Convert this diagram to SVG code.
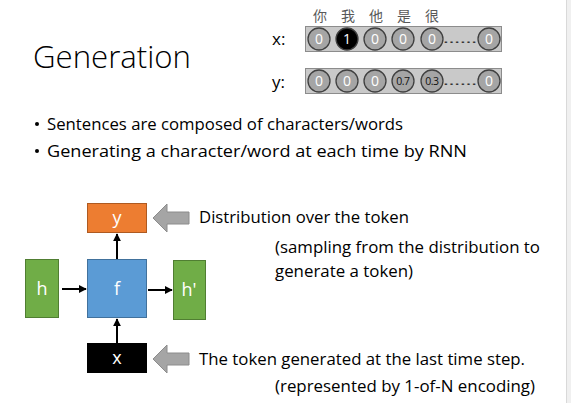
<svg xmlns="http://www.w3.org/2000/svg" width="571" height="403" viewBox="0 0 571 403">
<defs>
<style>
text{font-family:"Open Sans","Noto Sans","Liberation Sans",sans-serif;}
.cjk{font-family:"Noto Sans CJK SC","Noto Sans CJK JP",sans-serif;font-size:14px;fill:#595959;text-anchor:middle;}
.body{font-size:17px;fill:#000;}
.lbl{font-size:18px;fill:#fff;text-anchor:middle;}
.bar{fill:#c9c9c9;stroke:#8c8c8c;stroke-width:1;}
.cg{fill:#a5a5a5;stroke:#404040;stroke-width:1.3;}
.cb{fill:#000;stroke:#404040;stroke-width:1.3;}
.cn{font-size:14px;fill:#fff;text-anchor:middle;}
.cs{font-size:10.5px;fill:#111;text-anchor:middle;letter-spacing:-0.5px;}
.dots{font-size:12px;fill:#333;}
.conn{stroke:#000;stroke-width:2;fill:none;}
.garrow{fill:#a5a5a5;stroke:#8c8c8c;stroke-width:1;}
</style>
<marker id="ah" viewBox="0 0 10 10" refX="9" refY="5" markerWidth="4" markerHeight="4" orient="auto" markerUnits="strokeWidth">
<path d="M0,0 L10,5 L0,10 z" fill="#000"/>
</marker>
</defs>
<rect x="0" y="0" width="571" height="403" fill="#fff"/>
<rect x="567" y="0" width="4" height="403" fill="#f0f0f0"/>
<line x1="566.5" y1="0" x2="566.5" y2="403" stroke="#d9d9d9" stroke-width="1"/>

<text x="33" y="68" font-size="32" font-weight="300" fill="#000" textLength="158" lengthAdjust="spacingAndGlyphs">Generation</text>

<g id="bullets">
<circle cx="37" cy="124" r="2" fill="#000"/>
<text class="body" x="47" y="130" textLength="356" lengthAdjust="spacingAndGlyphs">Sentences are composed of characters/words</text>
<circle cx="37" cy="151" r="2" fill="#000"/>
<text class="body" x="47" y="157" textLength="420" lengthAdjust="spacingAndGlyphs">Generating a character/word at each time by RNN</text>
</g>

<g id="vector-x">
<text class="cjk" x="320" y="21">你</text>
<text class="cjk" x="348" y="21">我</text>
<text class="cjk" x="376" y="21">他</text>
<text class="cjk" x="404" y="21">是</text>
<text class="cjk" x="432" y="21">很</text>
<text x="272" y="45" font-size="17" fill="#000">x:</text>
<rect class="bar" x="305.5" y="26.5" width="196" height="25"/>
<circle class="cg" cx="319" cy="39" r="11"/><text class="cn" x="319" y="44">0</text>
<circle class="cb" cx="347" cy="39" r="11"/><text class="cn" x="347" y="44">1</text>
<circle class="cg" cx="375" cy="39" r="11"/><text class="cn" x="375" y="44">0</text>
<circle class="cg" cx="403" cy="39" r="11"/><text class="cn" x="403" y="44">0</text>
<circle class="cg" cx="432" cy="39" r="11"/><text class="cn" x="432" y="44">0</text>
<text class="dots" x="443" y="43" textLength="34" lengthAdjust="spacingAndGlyphs">……</text>
<circle class="cg" cx="489" cy="39" r="11"/><text class="cn" x="489" y="44">0</text>
</g>

<g id="vector-y">
<text x="272" y="88" font-size="17" fill="#000">y:</text>
<rect class="bar" x="305.5" y="68.5" width="196" height="25"/>
<circle class="cg" cx="319" cy="81" r="11"/><text class="cn" x="319" y="86">0</text>
<circle class="cg" cx="347" cy="81" r="11"/><text class="cn" x="347" y="86">0</text>
<circle class="cg" cx="375" cy="81" r="11"/><text class="cn" x="375" y="86">0</text>
<circle class="cg" cx="403" cy="81" r="11"/><text class="cs" x="403" y="85">0.7</text>
<circle class="cg" cx="432" cy="81" r="11"/><text class="cs" x="432" y="85">0.3</text>
<text class="dots" x="443" y="85" textLength="34" lengthAdjust="spacingAndGlyphs">……</text>
<circle class="cg" cx="489" cy="81" r="11"/><text class="cn" x="489" y="86">0</text>
</g>

<g id="node-y">
<rect x="87.5" y="203.5" width="59" height="29" fill="#ed7d31" stroke="#ae5a21"/>
<text class="lbl" x="117" y="224">y</text>
</g>
<g id="node-h">
<rect x="25.5" y="259.5" width="33" height="58" fill="#70ad47" stroke="#507e32"/>
<text class="lbl" x="42" y="295">h</text>
</g>
<g id="node-f">
<rect x="87.5" y="259.5" width="59" height="58" fill="#5b9bd5" stroke="#41719c"/>
<text class="lbl" x="117" y="295">f</text>
</g>
<g id="node-h2">
<rect x="173.5" y="260.5" width="32" height="59" fill="#70ad47" stroke="#507e32"/>
<text class="lbl" x="189" y="296">h'</text>
</g>
<g id="node-x">
<rect x="87" y="343" width="60" height="30" fill="#000"/>
<text class="lbl" x="117" y="364">x</text>
</g>

<g id="connectors">
<line class="conn" x1="62" y1="289" x2="86" y2="289" marker-end="url(#ah)"/>
<line class="conn" x1="148" y1="290" x2="172" y2="290" marker-end="url(#ah)"/>
<line class="conn" x1="117" y1="259" x2="117" y2="234" marker-end="url(#ah)"/>
<line class="conn" x1="117" y1="343" x2="117" y2="319" marker-end="url(#ah)"/>
</g>

<g id="pointer-top">
<path class="garrow" d="M153,218 L167,204 L167,212 L189,212 L189,224 L167,224 L167,232 Z"/>
<text class="body" x="199" y="223" textLength="210" lengthAdjust="spacingAndGlyphs">Distribution over the token</text>
<text class="body" x="275" y="253" textLength="265" lengthAdjust="spacingAndGlyphs">(sampling from the distribution to</text>
<text class="body" x="275" y="277" textLength="138" lengthAdjust="spacingAndGlyphs">generate a token)</text>
</g>
<g id="pointer-bottom">
<path class="garrow" d="M153,359 L167,345 L167,353 L189,353 L189,365 L167,365 L167,373 Z"/>
<text class="body" x="199" y="365" textLength="326" lengthAdjust="spacingAndGlyphs">The token generated at the last time step.</text>
<text class="body" x="275" y="392" textLength="260" lengthAdjust="spacingAndGlyphs">(represented by 1-of-N encoding)</text>
</g>
</svg>
